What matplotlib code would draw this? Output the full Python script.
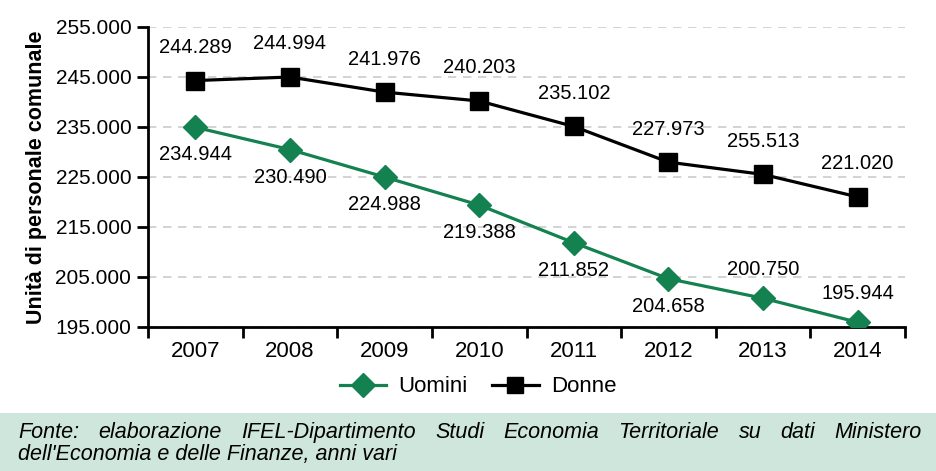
import matplotlib.pyplot as plt
from matplotlib.lines import Line2D
import numpy as np

# data
years = ["2007", "2008", "2009", "2010", "2011", "2012", "2013", "2014"]
uomini = [234944, 230490, 224988, 219388, 211852, 204658, 200750, 195944]
donne = [244289, 244994, 241976, 240203, 235102, 227973, 225513, 221020]
uomini_lbl = ["234.944", "230.490", "224.988", "219.388", "211.852", "204.658", "200.750", "195.944"]
donne_lbl = ["244.289", "244.994", "241.976", "240.203", "235.102", "227.973", "255.513", "221.020"]
uomini_above = [False, False, False, False, False, False, True, True]
yticks = [195000, 205000, 215000, 225000, 235000, 245000, 255000]

green = "#138150"
plt.rcParams['font.family'] = ['Liberation Sans', 'DejaVu Sans']

fig = plt.figure(figsize=(9.36, 4.71), dpi=100)
W, H = 936, 471
ax = fig.add_axes([148 / W, (H - 327) / H, (905 - 148) / W, 300 / H])

x = np.arange(len(years))
ax.plot(x, uomini, color=green, lw=2.3, marker="D", ms=12, zorder=3)
ax.plot(x, donne, color="black", lw=2.3, marker="s", ms=12.5, zorder=3)

for i in x:
    ax.annotate(donne_lbl[i], (i, donne[i]), xytext=(0, 17), textcoords="offset points",
                ha="center", va="bottom", fontsize=14.5)
    if uomini_above[i]:
        ax.annotate(uomini_lbl[i], (i, uomini[i]), xytext=(0, 14), textcoords="offset points",
                    ha="center", va="bottom", fontsize=14.5)
    else:
        ax.annotate(uomini_lbl[i], (i, uomini[i]), xytext=(0, -13), textcoords="offset points",
                    ha="center", va="top", fontsize=14.5)

ax.set_xlim(-0.5, len(years) - 0.5)
ax.set_ylim(195000, 255000)
ax.set_yticks(yticks)
ax.set_yticklabels([f"{v:,}".replace(",", ".") for v in yticks], fontsize=15)
ax.set_xticks(x)
ax.set_xticklabels(years, fontsize=16)
ax.set_xticks(np.arange(-0.5, len(years)), minor=True)
ax.tick_params(axis="x", which="major", length=0, pad=10)
ax.tick_params(axis="x", which="minor", length=8, width=2, direction="out")
ax.tick_params(axis="y", length=8, width=2, pad=4)
ax.yaxis.grid(True, color="#cccccc", ls=(0, (5, 4)), lw=1.2)
ax.set_axisbelow(True)
for s in ["top", "right"]:
    ax.spines[s].set_visible(False)
for s in ["left", "bottom"]:
    ax.spines[s].set_linewidth(2)
ax.set_ylabel("Unità di personale comunale", fontsize=15.5, fontweight="bold", labelpad=6)

handles = [Line2D([0], [0], color=green, lw=2.3, marker="D", ms=12, label="Uomini"),
           Line2D([0], [0], color="black", lw=2.3, marker="s", ms=11, label="Donne")]
fig.legend(handles=handles, loc="center", bbox_to_anchor=(478 / W, (H - 387) / H), ncol=2,
           frameon=False, fontsize=16, handlelength=2.1, handletextpad=0.55, columnspacing=1.1)

# footer box
fig.patches.append(plt.Rectangle((0, 0), 1, (H - 413) / H, transform=fig.transFigure,
                                 facecolor="#cfe6dc", edgecolor="none", zorder=0))
line1 = "Fonte: elaborazione IFEL-Dipartimento Studi Economia Territoriale su dati Ministero".split()
line2 = "dell'Economia e delle Finanze, anni vari"
fkw = dict(fontsize=15.5, style="italic")
fig.canvas.draw()
r = fig.canvas.get_renderer()
words = [fig.text(0, 0, w, **fkw) for w in line1]
widths = [t.get_window_extent(r).width for t in words]
x0, x1 = 18, 922
gap = (x1 - x0 - sum(widths)) / (len(words) - 1)
cx = x0
for t, w in zip(words, widths):
    t.set_position((cx / W, (H - 438) / H))
    cx += w + gap
fig.text(x0 / W, (H - 460) / H, line2, **fkw)

fig.savefig("out.png", dpi=100)
